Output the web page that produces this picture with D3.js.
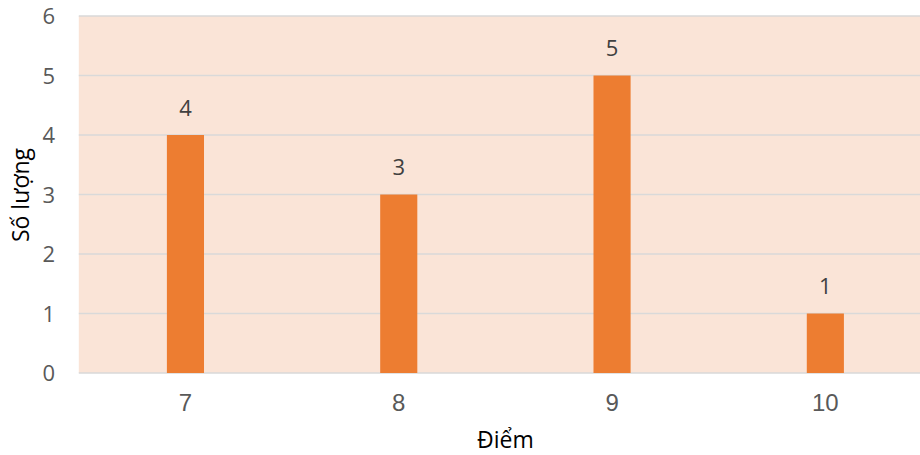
<!DOCTYPE html>
<html>
<head>
<meta charset="utf-8">
<script src="https://cdn.jsdelivr.net/npm/d3@7"></script>
<style>
  html, body { margin: 0; padding: 0; background: #fff; }
  svg { display: block; }
</style>
</head>
<body>
<svg id="chart" width="920" height="455"></svg>
<script>
// Score distribution
const categories = ["7", "8", "9", "10"];
const counts = [4, 3, 5, 1];
const yTicks = [0, 1, 2, 3, 4, 5, 6];
const xTitle = "Điểm";
const yTitle = "Số lượng";

const svg = d3.select("#chart");
const plot = { left: 78.8, right: 932, top: 16, bottom: 373 };

const x = d3.scaleBand()
  .domain(categories)
  .range([plot.left, plot.right])
  .paddingInner(0.826)
  .paddingOuter(0.413);

const y = d3.scaleLinear()
  .domain([0, 6])
  .range([plot.bottom, plot.top]);

// plot background
svg.append("rect")
  .attr("x", plot.left).attr("y", plot.top)
  .attr("width", plot.right - plot.left)
  .attr("height", plot.bottom - plot.top)
  .attr("fill", "#FAE4D7");

// horizontal grid lines
svg.append("g")
  .selectAll("line")
  .data(yTicks)
  .join("line")
  .attr("x1", plot.left).attr("x2", plot.right)
  .attr("y1", d => y(d)).attr("y2", d => y(d))
  .attr("stroke", "#D9D9D9")
  .attr("stroke-width", 1.5);

// bars
svg.append("g")
  .selectAll("rect")
  .data(categories)
  .join("rect")
  .attr("x", d => x(d))
  .attr("width", x.bandwidth())
  .attr("y", (d, i) => y(counts[i]))
  .attr("height", (d, i) => y(0) - y(counts[i]))
  .attr("fill", "#ED7D31");

// value labels
svg.append("g")
  .selectAll("text")
  .data(categories)
  .join("text")
  .attr("x", d => x(d) + x.bandwidth() / 2)
  .attr("y", (d, i) => y(counts[i]) - 19.5)
  .attr("text-anchor", "middle")
  .attr("font-family", "'Open Sans', sans-serif")
  .attr("font-size", 22)
  .attr("fill", "#404040")
  .text((d, i) => counts[i]);

// y axis
const yAxis = d3.axisLeft(y).tickValues(yTicks).tickFormat(d3.format("d")).tickSize(0).tickPadding(0);
const gy = svg.append("g")
  .attr("transform", "translate(55,0)")
  .call(yAxis);
gy.select(".domain").remove();
gy.selectAll("text")
  .attr("font-family", "'Open Sans', sans-serif")
  .attr("font-size", 22)
  .attr("fill", "#595959")
  .attr("dy", "0.36em");

// x axis
const xAxis = d3.axisBottom(x).tickSize(0).tickPadding(0);
const gx = svg.append("g")
  .attr("transform", `translate(0,${plot.bottom})`)
  .call(xAxis);
gx.select(".domain").remove();
gx.selectAll("text")
  .attr("font-family", "'Liberation Sans', Arial, sans-serif")
  .attr("font-size", 24)
  .attr("fill", "#595959")
  .attr("y", 38)
  .attr("dy", 0);

// axis titles
svg.append("text")
  .attr("x", (plot.left + plot.right) / 2)
  .attr("y", 448)
  .attr("text-anchor", "middle")
  .attr("font-family", "'Open Sans', sans-serif")
  .attr("font-size", 23)
  .attr("fill", "#000")
  .text(xTitle);

svg.append("text")
  .attr("transform", "translate(29,195) rotate(-90)")
  .attr("text-anchor", "middle")
  .attr("font-family", "'Open Sans', sans-serif")
  .attr("font-size", 23)
  .attr("fill", "#000")
  .text(yTitle);
</script>
</body>
</html>
